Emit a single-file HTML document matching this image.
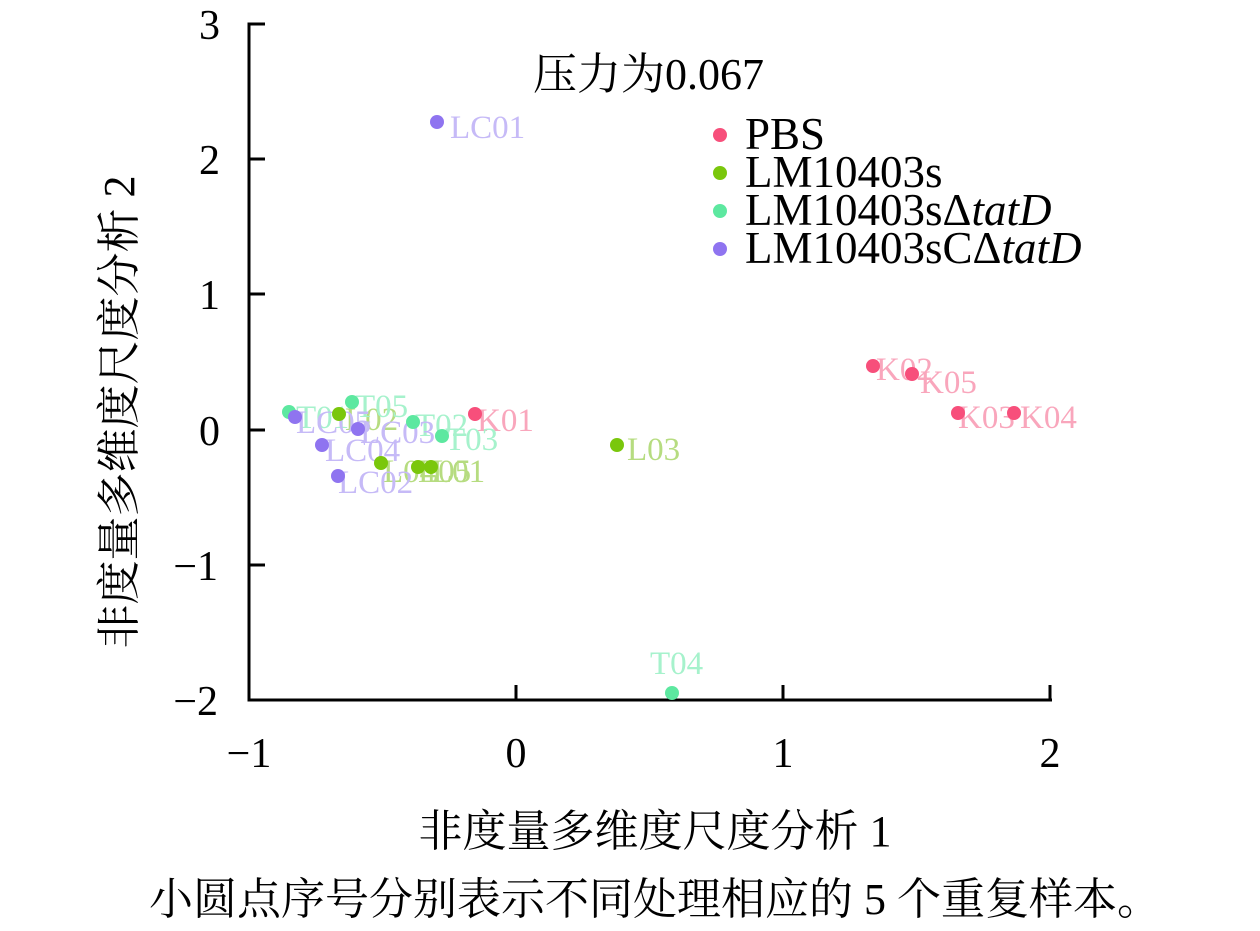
<!DOCTYPE html>
<html><head><meta charset="utf-8"><style>body{margin:0;background:#fff}</style></head><body>
<svg width="1260" height="926" xmlns="http://www.w3.org/2000/svg" font-family="Liberation Serif, Noto Serif CJK SC, serif">
<rect width="1260" height="926" fill="#fff"/>
<g stroke="#000" stroke-width="3" fill="none">
<path d="M265 24H249V700H1052"/>
<path d="M249 159H265M249 294H265M249 430H265M249 565H265"/>
<path d="M516 700V685M783 700V685M1050 700V685"/>
</g>
<g font-size="42" fill="#000" text-anchor="end">
<text x="220" y="39">3</text><text x="220" y="174">2</text><text x="220" y="309">1</text><text x="220" y="445">0</text><text x="218" y="580">−1</text><text x="218" y="715">−2</text>
</g>
<g font-size="42" fill="#000" text-anchor="middle">
<text x="249" y="767">−1</text><text x="516" y="767">0</text><text x="783" y="767">1</text><text x="1050" y="767">2</text>
</g>
<g font-size="44" fill="#000" text-anchor="middle">
<text x="655" y="846">非度量多维度尺度分析 1</text>
<text x="655" y="914">小圆点序号分别表示不同处理相应的 5 个重复样本。</text>
<text transform="translate(134,412) rotate(-90)">非度量多维度尺度分析 2</text>
</g>
<text x="533" y="89" font-size="44">压力为0.067</text>
<g font-size="45">
<circle cx="720" cy="135" r="7" fill="#f74f7b"/><text x="745" y="149">PBS</text>
<circle cx="720" cy="173" r="7" fill="#7ac70c"/><text x="745" y="187">LM10403s</text>
<circle cx="720" cy="211" r="7" fill="#5de8a0"/><text x="745" y="225">LM10403sΔ<tspan font-style="italic">tatD</tspan></text>
<circle cx="720" cy="249" r="7" fill="#8f74f0"/><text x="745" y="263">LM10403sCΔ<tspan font-style="italic">tatD</tspan></text>
</g>
<g font-size="33">
<g fill="#f9a6bc"><text x="876" y="380">K02</text><text x="920" y="393">K05</text><text x="958" y="428">K03</text><text x="1020" y="428">K04</text><text x="477" y="431">K01</text></g>
<g fill="#b6dc80"><text x="627" y="460">L03</text><text x="345" y="430">L02</text><text x="383" y="482">L04</text><text x="418" y="482">L05</text><text x="432" y="482">L01</text></g>
<g fill="#a6f2cc"><text x="650" y="674">T04</text><text x="296" y="428">T01</text><text x="355" y="417">T05</text><text x="415" y="436">T02</text><text x="445" y="450">T03</text></g>
<g fill="#c6baf7"><text x="450" y="138">LC01</text><text x="296" y="433">LC05</text><text x="360" y="443">LC03</text><text x="325" y="461">LC04</text><text x="338" y="493">LC02</text></g>
</g>
<g fill="#f74f7b"><circle cx="873" cy="366" r="7"/><circle cx="912" cy="374" r="7"/><circle cx="958" cy="413" r="7"/><circle cx="1014" cy="413" r="7"/><circle cx="475" cy="414" r="7"/></g>
<g fill="#7ac70c"><circle cx="617" cy="445" r="7"/><circle cx="339" cy="414" r="7"/><circle cx="381" cy="463" r="7"/><circle cx="418" cy="467" r="7"/><circle cx="431" cy="467" r="7"/></g>
<g fill="#5de8a0"><circle cx="672" cy="693" r="7"/><circle cx="289" cy="412" r="7"/><circle cx="352" cy="402" r="7"/><circle cx="413" cy="422" r="7"/><circle cx="442" cy="436" r="7"/></g>
<g fill="#8f74f0"><circle cx="437" cy="122" r="7"/><circle cx="295" cy="417" r="7"/><circle cx="358" cy="429" r="7"/><circle cx="322" cy="445" r="7"/><circle cx="338" cy="476" r="7"/></g>
</svg>
</body></html>
